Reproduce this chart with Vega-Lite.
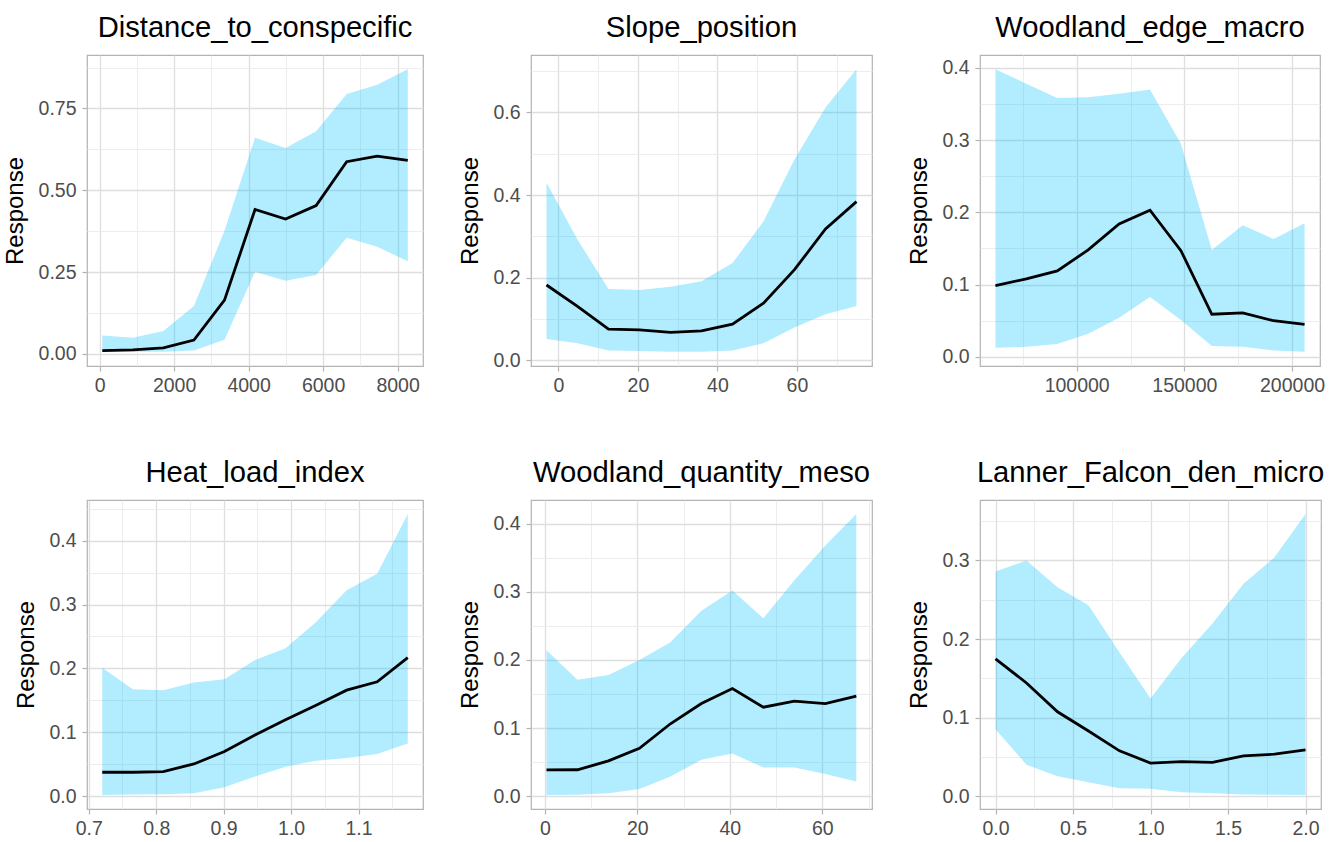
{
  "$schema": "https://vega.github.io/schema/vega-lite/v6.json",
  "background": "white",
  "padding": {"left": 2, "top": 13, "right": 5, "bottom": 5},
  "datasets": {
    "pd": [
      {"var": "Distance_to_conspecific", "x": 73, "fit": 0.010, "lo": 0.008, "hi": 0.056},
      {"var": "Distance_to_conspecific", "x": 893, "fit": 0.012, "lo": 0.006, "hi": 0.049},
      {"var": "Distance_to_conspecific", "x": 1713, "fit": 0.018, "lo": 0.006, "hi": 0.070},
      {"var": "Distance_to_conspecific", "x": 2533, "fit": 0.042, "lo": 0.010, "hi": 0.146},
      {"var": "Distance_to_conspecific", "x": 3353, "fit": 0.164, "lo": 0.043, "hi": 0.376},
      {"var": "Distance_to_conspecific", "x": 4173, "fit": 0.441, "lo": 0.251, "hi": 0.660},
      {"var": "Distance_to_conspecific", "x": 4993, "fit": 0.412, "lo": 0.223, "hi": 0.629},
      {"var": "Distance_to_conspecific", "x": 5813, "fit": 0.453, "lo": 0.241, "hi": 0.680},
      {"var": "Distance_to_conspecific", "x": 6633, "fit": 0.587, "lo": 0.355, "hi": 0.794},
      {"var": "Distance_to_conspecific", "x": 7453, "fit": 0.604, "lo": 0.327, "hi": 0.822},
      {"var": "Distance_to_conspecific", "x": 8273, "fit": 0.591, "lo": 0.283, "hi": 0.870},

      {"var": "Slope_position", "x": -3, "fit": 0.182, "lo": 0.051, "hi": 0.430},
      {"var": "Slope_position", "x": 4.8, "fit": 0.130, "lo": 0.041, "hi": 0.292},
      {"var": "Slope_position", "x": 12.6, "fit": 0.075, "lo": 0.023, "hi": 0.172},
      {"var": "Slope_position", "x": 20.4, "fit": 0.073, "lo": 0.022, "hi": 0.170},
      {"var": "Slope_position", "x": 28.2, "fit": 0.067, "lo": 0.020, "hi": 0.178},
      {"var": "Slope_position", "x": 36, "fit": 0.071, "lo": 0.020, "hi": 0.191},
      {"var": "Slope_position", "x": 43.8, "fit": 0.087, "lo": 0.023, "hi": 0.235},
      {"var": "Slope_position", "x": 51.6, "fit": 0.138, "lo": 0.041, "hi": 0.336},
      {"var": "Slope_position", "x": 59.4, "fit": 0.219, "lo": 0.079, "hi": 0.486},
      {"var": "Slope_position", "x": 67.2, "fit": 0.318, "lo": 0.111, "hi": 0.612},
      {"var": "Slope_position", "x": 75, "fit": 0.384, "lo": 0.131, "hi": 0.705},

      {"var": "Woodland_edge_macro", "x": 62300, "fit": 0.0987, "lo": 0.0125, "hi": 0.398},
      {"var": "Woodland_edge_macro", "x": 76650, "fit": 0.108, "lo": 0.014, "hi": 0.378},
      {"var": "Woodland_edge_macro", "x": 91000, "fit": 0.119, "lo": 0.018, "hi": 0.358},
      {"var": "Woodland_edge_macro", "x": 105350, "fit": 0.148, "lo": 0.032, "hi": 0.359},
      {"var": "Woodland_edge_macro", "x": 119700, "fit": 0.184, "lo": 0.054, "hi": 0.364},
      {"var": "Woodland_edge_macro", "x": 134050, "fit": 0.203, "lo": 0.083, "hi": 0.370},
      {"var": "Woodland_edge_macro", "x": 148400, "fit": 0.147, "lo": 0.051, "hi": 0.295},
      {"var": "Woodland_edge_macro", "x": 162750, "fit": 0.059, "lo": 0.015, "hi": 0.148},
      {"var": "Woodland_edge_macro", "x": 177100, "fit": 0.061, "lo": 0.014, "hi": 0.182},
      {"var": "Woodland_edge_macro", "x": 191450, "fit": 0.050, "lo": 0.009, "hi": 0.163},
      {"var": "Woodland_edge_macro", "x": 205800, "fit": 0.045, "lo": 0.007, "hi": 0.185},

      {"var": "Heat_load_index", "x": 0.720, "fit": 0.0375, "lo": 0.0020, "hi": 0.201},
      {"var": "Heat_load_index", "x": 0.7653, "fit": 0.0375, "lo": 0.0026, "hi": 0.1675},
      {"var": "Heat_load_index", "x": 0.8106, "fit": 0.0385, "lo": 0.0030, "hi": 0.166},
      {"var": "Heat_load_index", "x": 0.8559, "fit": 0.0505, "lo": 0.0047, "hi": 0.178},
      {"var": "Heat_load_index", "x": 0.9012, "fit": 0.070, "lo": 0.014, "hi": 0.183},
      {"var": "Heat_load_index", "x": 0.9465, "fit": 0.0958, "lo": 0.0307, "hi": 0.213},
      {"var": "Heat_load_index", "x": 0.9918, "fit": 0.1196, "lo": 0.0463, "hi": 0.2315},
      {"var": "Heat_load_index", "x": 1.0371, "fit": 0.1425, "lo": 0.0557, "hi": 0.2725},
      {"var": "Heat_load_index", "x": 1.0824, "fit": 0.166, "lo": 0.0598, "hi": 0.3225},
      {"var": "Heat_load_index", "x": 1.1277, "fit": 0.179, "lo": 0.066, "hi": 0.348},
      {"var": "Heat_load_index", "x": 1.173, "fit": 0.217, "lo": 0.0827, "hi": 0.4416},

      {"var": "Woodland_quantity_meso", "x": 0.36, "fit": 0.0389, "lo": 0.0020, "hi": 0.2143},
      {"var": "Woodland_quantity_meso", "x": 7.06, "fit": 0.039, "lo": 0.0024, "hi": 0.171},
      {"var": "Woodland_quantity_meso", "x": 13.76, "fit": 0.052, "lo": 0.0044, "hi": 0.178},
      {"var": "Woodland_quantity_meso", "x": 20.46, "fit": 0.0705, "lo": 0.0107, "hi": 0.200},
      {"var": "Woodland_quantity_meso", "x": 27.16, "fit": 0.1064, "lo": 0.029, "hi": 0.226},
      {"var": "Woodland_quantity_meso", "x": 33.86, "fit": 0.136, "lo": 0.0535, "hi": 0.272},
      {"var": "Woodland_quantity_meso", "x": 40.56, "fit": 0.158, "lo": 0.0627, "hi": 0.302},
      {"var": "Woodland_quantity_meso", "x": 47.26, "fit": 0.1307, "lo": 0.0423, "hi": 0.261},
      {"var": "Woodland_quantity_meso", "x": 53.96, "fit": 0.1395, "lo": 0.0423, "hi": 0.317},
      {"var": "Woodland_quantity_meso", "x": 60.66, "fit": 0.136, "lo": 0.0326, "hi": 0.368},
      {"var": "Woodland_quantity_meso", "x": 67.36, "fit": 0.1468, "lo": 0.0219, "hi": 0.414},

      {"var": "Lanner_Falcon_den_micro", "x": 0.0, "fit": 0.175, "lo": 0.0854, "hi": 0.286},
      {"var": "Lanner_Falcon_den_micro", "x": 0.2, "fit": 0.1443, "lo": 0.0404, "hi": 0.300},
      {"var": "Lanner_Falcon_den_micro", "x": 0.4, "fit": 0.1077, "lo": 0.0257, "hi": 0.266},
      {"var": "Lanner_Falcon_den_micro", "x": 0.6, "fit": 0.0833, "lo": 0.018, "hi": 0.243},
      {"var": "Lanner_Falcon_den_micro", "x": 0.8, "fit": 0.058, "lo": 0.0105, "hi": 0.183},
      {"var": "Lanner_Falcon_den_micro", "x": 1.0, "fit": 0.0425, "lo": 0.0097, "hi": 0.1245},
      {"var": "Lanner_Falcon_den_micro", "x": 1.2, "fit": 0.0442, "lo": 0.0055, "hi": 0.176},
      {"var": "Lanner_Falcon_den_micro", "x": 1.4, "fit": 0.0433, "lo": 0.0042, "hi": 0.220},
      {"var": "Lanner_Falcon_den_micro", "x": 1.6, "fit": 0.0517, "lo": 0.0025, "hi": 0.2705},
      {"var": "Lanner_Falcon_den_micro", "x": 1.8, "fit": 0.0538, "lo": 0.0021, "hi": 0.304},
      {"var": "Lanner_Falcon_den_micro", "x": 2.0, "fit": 0.0593, "lo": 0.0020, "hi": 0.359}
    ]
  },
  "columns": 3,
  "align": "none",
  "spacing": {"row": 62, "column": 33},
  "concat": [
    {
      "title": "Distance_to_conspecific",
      "width": 336,
      "height": 311,
      "data": {"name": "pd"},
      "transform": [{"filter": {"field": "var", "equal": "Distance_to_conspecific"}}],
      "layer": [
        {
          "mark": {"type": "area", "color": "#00BFFF", "opacity": 0.3},
          "encoding": {
            "x": {"field": "x", "type": "quantitative", "scale": {"domain": [-337, 8682], "nice": false, "zero": false},
                  "axis": {"orient": "top", "grid": true, "values": [1000, 3000, 5000, 7000], "labels": false, "ticks": false, "domain": false, "title": null, "gridColor": "#ebebeb", "gridWidth": 0.9, "minExtent": 0, "maxExtent": 0}},
            "y": {"field": "lo", "type": "quantitative", "scale": {"domain": [-0.0372, 0.9132], "nice": false, "zero": false},
                  "axis": {"orient": "right", "grid": true, "values": [0.125, 0.375, 0.625, 0.875], "labels": false, "ticks": false, "domain": false, "title": null, "gridColor": "#ebebeb", "gridWidth": 0.9, "minExtent": 0, "maxExtent": 0}},
            "y2": {"field": "hi"}
          }
        },
        {
          "mark": {"type": "line", "color": "black", "strokeWidth": 2.8},
          "encoding": {
            "x": {"field": "x", "type": "quantitative", "scale": {"domain": [-337, 8682], "nice": false, "zero": false},
                  "axis": {"orient": "bottom", "grid": true, "values": [0, 2000, 4000, 6000, 8000], "format": "d", "title": null}},
            "y": {"field": "fit", "type": "quantitative", "scale": {"domain": [-0.0372, 0.9132], "nice": false, "zero": false},
                  "axis": {"orient": "left", "grid": true, "values": [0, 0.25, 0.5, 0.75], "format": ".2f", "title": "Response"}}
          }
        }
      ],
      "resolve": {"axis": {"x": "independent", "y": "independent"}}
    },
    {
      "title": "Slope_position",
      "width": 341,
      "height": 311,
      "data": {"name": "pd"},
      "transform": [{"filter": {"field": "var", "equal": "Slope_position"}}],
      "layer": [
        {
          "mark": {"type": "area", "color": "#00BFFF", "opacity": 0.3},
          "encoding": {
            "x": {"field": "x", "type": "quantitative", "scale": {"domain": [-6.9, 78.9], "nice": false, "zero": false},
                  "axis": {"orient": "top", "grid": true, "values": [10, 30, 50, 70], "labels": false, "ticks": false, "domain": false, "title": null, "gridColor": "#ebebeb", "gridWidth": 0.9, "minExtent": 0, "maxExtent": 0}},
            "y": {"field": "lo", "type": "quantitative", "scale": {"domain": [-0.0143, 0.7393], "nice": false, "zero": false},
                  "axis": {"orient": "right", "grid": true, "values": [0.1, 0.3, 0.5, 0.7], "labels": false, "ticks": false, "domain": false, "title": null, "gridColor": "#ebebeb", "gridWidth": 0.9, "minExtent": 0, "maxExtent": 0}},
            "y2": {"field": "hi"}
          }
        },
        {
          "mark": {"type": "line", "color": "black", "strokeWidth": 2.8},
          "encoding": {
            "x": {"field": "x", "type": "quantitative", "scale": {"domain": [-6.9, 78.9], "nice": false, "zero": false},
                  "axis": {"orient": "bottom", "grid": true, "values": [0, 20, 40, 60], "format": "d", "title": null}},
            "y": {"field": "fit", "type": "quantitative", "scale": {"domain": [-0.0143, 0.7393], "nice": false, "zero": false},
                  "axis": {"orient": "left", "grid": true, "values": [0, 0.2, 0.4, 0.6], "format": ".1f", "title": "Response"}}
          }
        }
      ],
      "resolve": {"axis": {"x": "independent", "y": "independent"}}
    },
    {
      "title": "Woodland_edge_macro",
      "width": 340,
      "height": 311,
      "data": {"name": "pd"},
      "transform": [{"filter": {"field": "var", "equal": "Woodland_edge_macro"}}],
      "layer": [
        {
          "mark": {"type": "area", "color": "#00BFFF", "opacity": 0.3},
          "encoding": {
            "x": {"field": "x", "type": "quantitative", "scale": {"domain": [55125, 212975], "nice": false, "zero": false},
                  "axis": {"orient": "top", "grid": true, "values": [75000, 125000, 175000], "labels": false, "ticks": false, "domain": false, "title": null, "gridColor": "#ebebeb", "gridWidth": 0.9, "minExtent": 0, "maxExtent": 0}},
            "y": {"field": "lo", "type": "quantitative", "scale": {"domain": [-0.0126, 0.4176], "nice": false, "zero": false},
                  "axis": {"orient": "right", "grid": true, "values": [0.05, 0.15, 0.25, 0.35], "labels": false, "ticks": false, "domain": false, "title": null, "gridColor": "#ebebeb", "gridWidth": 0.9, "minExtent": 0, "maxExtent": 0}},
            "y2": {"field": "hi"}
          }
        },
        {
          "mark": {"type": "line", "color": "black", "strokeWidth": 2.8},
          "encoding": {
            "x": {"field": "x", "type": "quantitative", "scale": {"domain": [55125, 212975], "nice": false, "zero": false},
                  "axis": {"orient": "bottom", "grid": true, "values": [100000, 150000, 200000], "format": "d", "title": null}},
            "y": {"field": "fit", "type": "quantitative", "scale": {"domain": [-0.0126, 0.4176], "nice": false, "zero": false},
                  "axis": {"orient": "left", "grid": true, "values": [0, 0.1, 0.2, 0.3, 0.4], "format": ".1f", "title": "Response"}}
          }
        }
      ],
      "resolve": {"axis": {"x": "independent", "y": "independent"}}
    },
    {
      "title": "Heat_load_index",
      "width": 336,
      "height": 309,
      "data": {"name": "pd"},
      "transform": [{"filter": {"field": "var", "equal": "Heat_load_index"}}],
      "layer": [
        {
          "mark": {"type": "area", "color": "#00BFFF", "opacity": 0.3},
          "encoding": {
            "x": {"field": "x", "type": "quantitative", "scale": {"domain": [0.6974, 1.1956], "nice": false, "zero": false},
                  "axis": {"orient": "top", "grid": true, "values": [0.75, 0.85, 0.95, 1.05, 1.15], "labels": false, "ticks": false, "domain": false, "title": null, "gridColor": "#ebebeb", "gridWidth": 0.9, "minExtent": 0, "maxExtent": 0}},
            "y": {"field": "lo", "type": "quantitative", "scale": {"domain": [-0.020, 0.4636], "nice": false, "zero": false},
                  "axis": {"orient": "right", "grid": true, "values": [0.05, 0.15, 0.25, 0.35, 0.45], "labels": false, "ticks": false, "domain": false, "title": null, "gridColor": "#ebebeb", "gridWidth": 0.9, "minExtent": 0, "maxExtent": 0}},
            "y2": {"field": "hi"}
          }
        },
        {
          "mark": {"type": "line", "color": "black", "strokeWidth": 2.8},
          "encoding": {
            "x": {"field": "x", "type": "quantitative", "scale": {"domain": [0.6974, 1.1956], "nice": false, "zero": false},
                  "axis": {"orient": "bottom", "grid": true, "values": [0.7, 0.8, 0.9, 1.0, 1.1], "format": ".1f", "title": null}},
            "y": {"field": "fit", "type": "quantitative", "scale": {"domain": [-0.020, 0.4636], "nice": false, "zero": false},
                  "axis": {"orient": "left", "grid": true, "values": [0, 0.1, 0.2, 0.3, 0.4], "format": ".1f", "title": "Response"}}
          }
        }
      ],
      "resolve": {"axis": {"x": "independent", "y": "independent"}}
    },
    {
      "title": "Woodland_quantity_meso",
      "width": 341,
      "height": 309,
      "data": {"name": "pd"},
      "transform": [{"filter": {"field": "var", "equal": "Woodland_quantity_meso"}}],
      "layer": [
        {
          "mark": {"type": "area", "color": "#00BFFF", "opacity": 0.3},
          "encoding": {
            "x": {"field": "x", "type": "quantitative", "scale": {"domain": [-2.99, 70.75], "nice": false, "zero": false},
                  "axis": {"orient": "top", "grid": true, "values": [10, 30, 50, 70], "labels": false, "ticks": false, "domain": false, "title": null, "gridColor": "#ebebeb", "gridWidth": 0.9, "minExtent": 0, "maxExtent": 0}},
            "y": {"field": "lo", "type": "quantitative", "scale": {"domain": [-0.0186, 0.4346], "nice": false, "zero": false},
                  "axis": {"orient": "right", "grid": true, "values": [0.05, 0.15, 0.25, 0.35], "labels": false, "ticks": false, "domain": false, "title": null, "gridColor": "#ebebeb", "gridWidth": 0.9, "minExtent": 0, "maxExtent": 0}},
            "y2": {"field": "hi"}
          }
        },
        {
          "mark": {"type": "line", "color": "black", "strokeWidth": 2.8},
          "encoding": {
            "x": {"field": "x", "type": "quantitative", "scale": {"domain": [-2.99, 70.75], "nice": false, "zero": false},
                  "axis": {"orient": "bottom", "grid": true, "values": [0, 20, 40, 60], "format": "d", "title": null}},
            "y": {"field": "fit", "type": "quantitative", "scale": {"domain": [-0.0186, 0.4346], "nice": false, "zero": false},
                  "axis": {"orient": "left", "grid": true, "values": [0, 0.1, 0.2, 0.3, 0.4], "format": ".1f", "title": "Response"}}
          }
        }
      ],
      "resolve": {"axis": {"x": "independent", "y": "independent"}}
    },
    {
      "title": "Lanner_Falcon_den_micro",
      "width": 341,
      "height": 309,
      "data": {"name": "pd"},
      "transform": [{"filter": {"field": "var", "equal": "Lanner_Falcon_den_micro"}}],
      "layer": [
        {
          "mark": {"type": "area", "color": "#00BFFF", "opacity": 0.3},
          "encoding": {
            "x": {"field": "x", "type": "quantitative", "scale": {"domain": [-0.1, 2.1], "nice": false, "zero": false},
                  "axis": {"orient": "top", "grid": true, "values": [0.25, 0.75, 1.25, 1.75], "labels": false, "ticks": false, "domain": false, "title": null, "gridColor": "#ebebeb", "gridWidth": 0.9, "minExtent": 0, "maxExtent": 0}},
            "y": {"field": "lo", "type": "quantitative", "scale": {"domain": [-0.0159, 0.3769], "nice": false, "zero": false},
                  "axis": {"orient": "right", "grid": true, "values": [0.05, 0.15, 0.25, 0.35], "labels": false, "ticks": false, "domain": false, "title": null, "gridColor": "#ebebeb", "gridWidth": 0.9, "minExtent": 0, "maxExtent": 0}},
            "y2": {"field": "hi"}
          }
        },
        {
          "mark": {"type": "line", "color": "black", "strokeWidth": 2.8},
          "encoding": {
            "x": {"field": "x", "type": "quantitative", "scale": {"domain": [-0.1, 2.1], "nice": false, "zero": false},
                  "axis": {"orient": "bottom", "grid": true, "values": [0, 0.5, 1.0, 1.5, 2.0], "format": ".1f", "title": null}},
            "y": {"field": "fit", "type": "quantitative", "scale": {"domain": [-0.0159, 0.3769], "nice": false, "zero": false},
                  "axis": {"orient": "left", "grid": true, "values": [0, 0.1, 0.2, 0.3], "format": ".1f", "title": "Response"}}
          }
        }
      ],
      "resolve": {"axis": {"x": "independent", "y": "independent"}}
    }
  ],
  "config": {
    "font": "Liberation Sans",
    "view": {"stroke": "#b3b3b3", "strokeWidth": 1.2},
    "axis": {
      "domain": false,
      "grid": true,
      "gridColor": "#dedede",
      "gridWidth": 1.3,
      "tickColor": "#b3b3b3",
      "tickSize": 5,
      "tickWidth": 1.2,
      "labelColor": "#4d4d4d",
      "labelFont": "Liberation Sans",
      "labelFontSize": 19.5,
      "labelPadding": 6,
      "labelFlush": false,
      "labelOverlap": false,
      "titleFont": "Liberation Sans",
      "titleFontSize": 24,
      "titleFontWeight": "normal",
      "titleColor": "#000000",
      "titlePadding": 10.5
    },
    "axisX": {"labelPadding": 5},
    "title": {
      "font": "Liberation Sans",
      "fontSize": 29.2,
      "fontWeight": "normal",
      "color": "#000000",
      "anchor": "middle",
      "frame": "group",
      "baseline": "alphabetic",
      "offset": 12
    }
  }
}
